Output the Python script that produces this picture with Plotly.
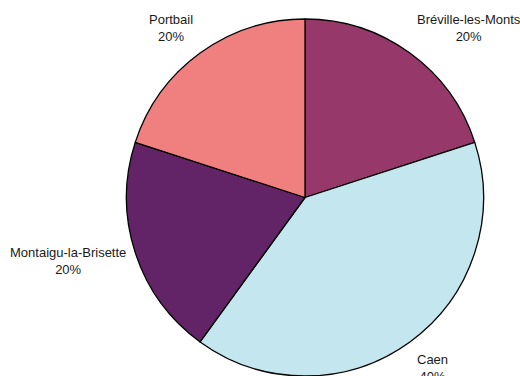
"""Pie chart of share by town."""

import math

import plotly.graph_objects as go

towns = ["Bréville-les-Monts", "Caen", "Montaigu-la-Brisette", "Portbail"]
shares = [20, 40, 20, 20]
colors = ["#96386a", "#c3e6ef", "#622367", "#f08080"]

W, H = 520, 376
cx, cy, r = 305, 198, 179  # pixel centre / radius of the pie

fig = go.Figure()
fig.add_trace(
    go.Pie(
        labels=towns,
        values=shares,
        sort=False,
        direction="clockwise",
        rotation=0,
        textinfo="none",
        hoverinfo="label+percent",
        marker=dict(colors=colors, line=dict(color="#000000", width=1.3)),
        domain=dict(
            x=[(cx - r) / W, (cx + r) / W],
            y=[max(0, 1 - (cy + r) / H), 1 - (cy - r) / H],
        ),
        showlegend=False,
    )
)

# outside labels: name + percentage, anchored by a corner near each slice's mid angle
total = sum(shares)
cum = 0
for town, v in zip(towns, shares):
    mid = (cum + v / 2) / total * 2 * math.pi
    cum += v
    s, c = math.sin(mid), math.cos(mid)
    xa = "left" if s > 0 else "right"
    if abs(c) < 0.5:
        px = cx + s * r * 1.04
        py = cy - c * r * 1.14
        ya = "middle"
    else:
        px = cx + s * r * 1.05
        py = cy - c * r * 1.05
        ya = "bottom" if c > 0 else "top"
    pct = round(v / total * 100)
    fig.add_annotation(
        x=px / W,
        y=1 - py / H,
        xref="paper",
        yref="paper",
        text=f"{town}<br>{pct}%",
        showarrow=False,
        xanchor=xa,
        yanchor=ya,
        align="center",
        font=dict(size=13, color="#1a1a1a"),
    )

fig.update_layout(
    width=W,
    height=H,
    margin=dict(l=0, r=0, t=0, b=0),
    paper_bgcolor="white",
    plot_bgcolor="white",
    font=dict(family="Liberation Sans, Arial, sans-serif"),
)

# drop the page's default body margin so the figure fills the window
fig.write_html(
    "out.html",
    config={"displayModeBar": False},
    post_script="document.body.style.margin = '0';",
)
